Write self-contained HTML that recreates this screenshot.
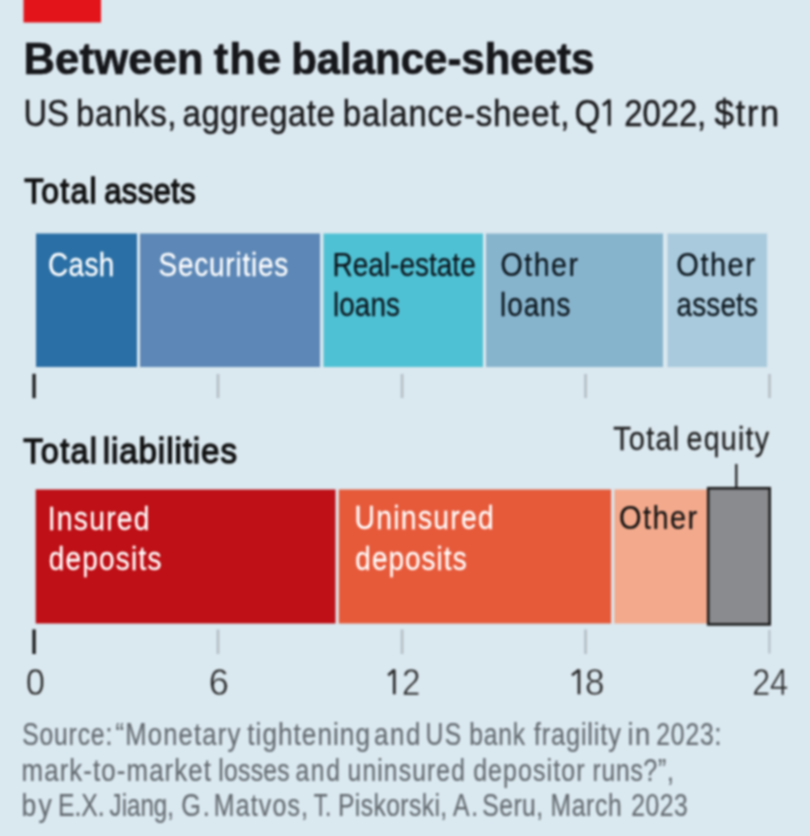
<!DOCTYPE html>
<html><head><meta charset="utf-8"><style>
html,body{margin:0;padding:0;background:#dae8ef;overflow:hidden;width:810px;height:836px;}
svg{display:block;} #w{filter:blur(1px);position:absolute;left:-10px;top:-10px;width:830px;height:856px;}
text{font-family:"Liberation Sans",sans-serif;}
</style></head><body><div id="w">
<svg width="830" height="856" viewBox="-10 -10 830 856">
<rect x="-10" y="-10" width="830" height="856" fill="#dae8ef"/>
<rect x="23.5" y="-10" width="77.5" height="32.5" fill="#e3141a"/>
<!-- assets bar -->
<rect x="36" y="233.5" width="101" height="133.5" fill="#2a6fa5"/>
<rect x="140" y="233.5" width="180" height="133.5" fill="#5c87b6"/>
<rect x="323.5" y="233.5" width="159.5" height="133.5" fill="#4fc1d4"/>
<rect x="486" y="233.5" width="177" height="133.5" fill="#87b4cd"/>
<rect x="667.5" y="233.5" width="99.5" height="133.5" fill="#a9cadd"/>
<!-- asset ticks -->
<rect x="32.4" y="373.8" width="3.3" height="24.4" fill="#1c1c1c"/>
<rect x="216.6" y="374" width="2.8" height="24" fill="#b6c0c7"/>
<rect x="400.7" y="374" width="2.8" height="24" fill="#b6c0c7"/>
<rect x="584.2" y="374" width="2.8" height="24" fill="#b6c0c7"/>
<rect x="768.1" y="374" width="2.8" height="24" fill="#b6c0c7"/>
<!-- liabilities bar -->
<rect x="35.7" y="489.5" width="299.8" height="134" fill="#be1016"/>
<rect x="338.8" y="489.5" width="272.3" height="134" fill="#e65a3a"/>
<rect x="614.3" y="489.5" width="93" height="134" fill="#f3a98c"/>
<rect x="708.2" y="488.2" width="61.5" height="136.2" fill="#8a8b8e" stroke="#1e1e1e" stroke-width="2.6"/>
<rect x="735.2" y="464" width="2.2" height="23" fill="#1e1e1e"/>
<!-- liab ticks -->
<rect x="32.4" y="629.4" width="3.3" height="24.6" fill="#1c1c1c"/>
<rect x="216.6" y="629.5" width="2.8" height="24.5" fill="#b6c0c7"/>
<rect x="400.7" y="629.5" width="2.8" height="24.5" fill="#b6c0c7"/>
<rect x="584.2" y="629.5" width="2.8" height="24.5" fill="#b6c0c7"/>
<rect x="768.3" y="630" width="2.2" height="23.5" fill="#b6c0c7"/>
<!-- digit 1s -->
<path d="M394.3 669.5 L394.3 694.3 M394.3 669.8 L388.2 675.2" stroke="#2b2b2b" stroke-width="2.7" fill="none" stroke-linecap="butt"/>
<path d="M579.0 669.5 L579.0 694.3 M579.0 669.8 L572.0 675.2" stroke="#2b2b2b" stroke-width="2.7" fill="none" stroke-linecap="butt"/>
<path d="M609.3 99.6 L609.3 125.8 M609.3 100.2 L603.0 105.4" stroke="#1c1c1e" stroke-width="3.0" fill="none"/>

<text transform="scale(1.0000,1)" x="23.49" y="73.70" font-weight="bold" font-size="43.5" fill="#16171a" textLength="180.21" lengthAdjust="spacing" stroke="#16171a" stroke-width="0.7">Between</text>
<text transform="scale(1.0000,1)" x="213.67" y="73.70" font-weight="bold" font-size="43.5" fill="#16171a" textLength="67.22" lengthAdjust="spacing" stroke="#16171a" stroke-width="0.7">the</text>
<text x="291.13" y="73.70" font-weight="bold" font-size="43.5" fill="#16171a" textLength="303.19" lengthAdjust="spacingAndGlyphs" stroke="#16171a" stroke-width="0.7">balance-sheets</text>
<text x="23.48" y="125.80" font-weight="normal" font-size="37.5" fill="#1c1c1e" textLength="45.42" lengthAdjust="spacingAndGlyphs" stroke="#1c1c1e" stroke-width="0.45">US</text>
<text transform="scale(0.8800,1)" x="86.33" y="125.80" font-weight="normal" font-size="37.5" fill="#1c1c1e" textLength="114.20" lengthAdjust="spacing" stroke="#1c1c1e" stroke-width="0.45">banks,</text>
<text transform="scale(0.8800,1)" x="207.50" y="125.80" font-weight="normal" font-size="37.5" fill="#1c1c1e" textLength="172.92" lengthAdjust="spacing" stroke="#1c1c1e" stroke-width="0.45">aggregate</text>
<text transform="scale(0.8800,1)" x="389.63" y="125.80" font-weight="normal" font-size="37.5" fill="#1c1c1e" textLength="257.49" lengthAdjust="spacing" stroke="#1c1c1e" stroke-width="0.45">balance-sheet,</text>
<text x="574.62" y="125.80" font-weight="normal" font-size="37.5" fill="#1c1c1e" textLength="25.98" lengthAdjust="spacingAndGlyphs" stroke="#1c1c1e" stroke-width="0.45">Q</text>
<text x="624.15" y="125.80" font-weight="normal" font-size="37.5" fill="#1c1c1e" textLength="82.10" lengthAdjust="spacingAndGlyphs" stroke="#1c1c1e" stroke-width="0.45">2022,</text>
<text transform="scale(0.9334,1)" x="765.57" y="125.80" font-weight="normal" font-size="37.5" fill="#1c1c1e" textLength="69.26" lengthAdjust="spacing" stroke="#1c1c1e" stroke-width="0.45">$trn</text>
<text transform="scale(0.8976,1)" x="26.94" y="203.50" font-weight="normal" font-size="35.5" fill="#121212" textLength="80.60" lengthAdjust="spacing" stroke="#121212" stroke-width="1.3">Total</text>
<text transform="scale(0.8800,1)" x="118.49" y="203.50" font-weight="normal" font-size="35.5" fill="#121212" textLength="103.70" lengthAdjust="spacing" stroke="#121212" stroke-width="1.3">assets</text>
<text transform="scale(0.8200,1)" x="58.52" y="276.20" font-weight="normal" font-size="34" fill="#ffffff" textLength="80.89" lengthAdjust="spacing" stroke="#ffffff" stroke-width="0.25">Cash</text>
<text transform="scale(0.8200,1)" x="193.33" y="276.40" font-weight="normal" font-size="34" fill="#ffffff" textLength="158.14" lengthAdjust="spacing" stroke="#ffffff" stroke-width="0.25">Securities</text>
<text x="332.50" y="275.80" font-weight="normal" font-size="34" fill="#0c161d" textLength="143.24" lengthAdjust="spacingAndGlyphs" stroke="#0c161d" stroke-width="0.25">Real-estate</text>
<text transform="scale(0.8200,1)" x="406.00" y="316.20" font-weight="normal" font-size="34" fill="#0c161d" textLength="81.81" lengthAdjust="spacing" stroke="#0c161d" stroke-width="0.25">loans</text>
<text transform="scale(0.8410,1)" x="595.27" y="276.00" font-weight="normal" font-size="34" fill="#0c161d" textLength="91.94" lengthAdjust="spacing" stroke="#0c161d" stroke-width="0.25">Other</text>
<text transform="scale(0.8200,1)" x="609.90" y="316.20" font-weight="normal" font-size="34" fill="#0c161d" textLength="85.84" lengthAdjust="spacing" stroke="#0c161d" stroke-width="0.25">loans</text>
<text transform="scale(0.8555,1)" x="790.54" y="276.00" font-weight="normal" font-size="34" fill="#0c161d" textLength="91.83" lengthAdjust="spacing" stroke="#0c161d" stroke-width="0.25">Other</text>
<text transform="scale(0.8200,1)" x="825.02" y="316.20" font-weight="normal" font-size="34" fill="#0c161d" textLength="99.26" lengthAdjust="spacing" stroke="#0c161d" stroke-width="0.25">assets</text>
<text transform="scale(0.9143,1)" x="25.56" y="463.50" font-weight="normal" font-size="35.5" fill="#121212" textLength="80.50" lengthAdjust="spacing" stroke="#121212" stroke-width="1.3">Total</text>
<text transform="scale(0.9331,1)" x="110.03" y="463.50" font-weight="normal" font-size="35.5" fill="#121212" textLength="143.96" lengthAdjust="spacing" stroke="#121212" stroke-width="1.3">liabilities</text>
<text transform="scale(0.8531,1)" x="718.73" y="450.20" font-weight="normal" font-size="34" fill="#222222" textLength="77.47" lengthAdjust="spacing" stroke="#222222" stroke-width="0.25">Total</text>
<text transform="scale(0.8401,1)" x="817.18" y="450.20" font-weight="normal" font-size="34" fill="#222222" textLength="98.17" lengthAdjust="spacing" stroke="#222222" stroke-width="0.25">equity</text>
<text transform="scale(0.8312,1)" x="57.38" y="529.60" font-weight="normal" font-size="34" fill="#ffffff" textLength="122.51" lengthAdjust="spacing" stroke="#ffffff" stroke-width="0.25">Insured</text>
<text transform="scale(0.8220,1)" x="59.27" y="570.40" font-weight="normal" font-size="34" fill="#ffffff" textLength="137.20" lengthAdjust="spacing" stroke="#ffffff" stroke-width="0.25">deposits</text>
<text transform="scale(0.8310,1)" x="426.63" y="529.40" font-weight="normal" font-size="34" fill="#ffffff" textLength="167.63" lengthAdjust="spacing" stroke="#ffffff" stroke-width="0.25">Uninsured</text>
<text transform="scale(0.8200,1)" x="433.33" y="569.80" font-weight="normal" font-size="34" fill="#ffffff" textLength="135.71" lengthAdjust="spacing" stroke="#ffffff" stroke-width="0.25">deposits</text>
<text transform="scale(0.8507,1)" x="727.67" y="529.40" font-weight="normal" font-size="34" fill="#111111" textLength="91.87" lengthAdjust="spacing" stroke="#111111" stroke-width="0.25">Other</text>
<text x="25.85" y="694.80" font-weight="normal" font-size="37" fill="#2b2b2b" textLength="19.20" lengthAdjust="spacingAndGlyphs" stroke="#dae8ef" stroke-width="0.5">0</text>
<text x="208.86" y="694.80" font-weight="normal" font-size="37" fill="#2b2b2b" textLength="20.13" lengthAdjust="spacingAndGlyphs" stroke="#dae8ef" stroke-width="0.5">6</text>
<text x="402.03" y="694.80" font-weight="normal" font-size="37" fill="#2b2b2b" textLength="18.43" lengthAdjust="spacingAndGlyphs" stroke="#dae8ef" stroke-width="0.5">2</text>
<text x="584.97" y="694.80" font-weight="normal" font-size="37" fill="#2b2b2b" textLength="19.56" lengthAdjust="spacingAndGlyphs" stroke="#dae8ef" stroke-width="0.5">8</text>
<text x="752.18" y="694.80" font-weight="normal" font-size="37" fill="#2b2b2b" textLength="17.95" lengthAdjust="spacingAndGlyphs" stroke="#dae8ef" stroke-width="0.5">2</text>
<text x="769.95" y="694.80" font-weight="normal" font-size="37" fill="#2b2b2b" textLength="18.10" lengthAdjust="spacingAndGlyphs" stroke="#dae8ef" stroke-width="0.5">4</text>
<text transform="scale(0.8000,1)" x="27.73" y="745.30" font-weight="normal" font-size="30.8" fill="#656c72" textLength="112.59" lengthAdjust="spacing" stroke="#656c72" stroke-width="0.2">Source:</text>
<text transform="scale(0.8314,1)" x="138.88" y="745.30" font-weight="normal" font-size="30.8" fill="#656c72" textLength="150.21" lengthAdjust="spacing" stroke="#656c72" stroke-width="0.2">“Monetary</text>
<text transform="scale(0.8497,1)" x="291.04" y="745.30" font-weight="normal" font-size="30.8" fill="#656c72" textLength="144.38" lengthAdjust="spacing" stroke="#656c72" stroke-width="0.2">tightening</text>
<text transform="scale(0.8407,1)" x="444.77" y="745.30" font-weight="normal" font-size="30.8" fill="#656c72" textLength="55.40" lengthAdjust="spacing" stroke="#656c72" stroke-width="0.2">and</text>
<text transform="scale(0.8000,1)" x="531.87" y="745.30" font-weight="normal" font-size="30.8" fill="#656c72" textLength="44.54" lengthAdjust="spacing" stroke="#656c72" stroke-width="0.2">US</text>
<text transform="scale(0.8000,1)" x="586.51" y="745.30" font-weight="normal" font-size="30.8" fill="#656c72" textLength="69.69" lengthAdjust="spacing" stroke="#656c72" stroke-width="0.2">bank</text>
<text transform="scale(0.8222,1)" x="649.30" y="745.30" font-weight="normal" font-size="30.8" fill="#656c72" textLength="105.83" lengthAdjust="spacing" stroke="#656c72" stroke-width="0.2">fragility</text>
<text transform="scale(0.8887,1)" x="705.98" y="745.30" font-weight="normal" font-size="30.8" fill="#656c72" textLength="25.55" lengthAdjust="spacing" stroke="#656c72" stroke-width="0.2">in</text>
<text transform="scale(0.8000,1)" x="820.33" y="745.30" font-weight="normal" font-size="30.8" fill="#656c72" textLength="81.49" lengthAdjust="spacing" stroke="#656c72" stroke-width="0.2">2023:</text>
<text transform="scale(0.8380,1)" x="25.76" y="780.60" font-weight="normal" font-size="30.8" fill="#656c72" textLength="226.01" lengthAdjust="spacing" stroke="#656c72" stroke-width="0.2">mark-to-market</text>
<text transform="scale(0.8000,1)" x="272.92" y="780.60" font-weight="normal" font-size="30.8" fill="#656c72" textLength="89.19" lengthAdjust="spacing" stroke="#656c72" stroke-width="0.2">losses</text>
<text transform="scale(0.8000,1)" x="369.32" y="780.60" font-weight="normal" font-size="30.8" fill="#656c72" textLength="55.54" lengthAdjust="spacing" stroke="#656c72" stroke-width="0.2">and</text>
<text transform="scale(0.8000,1)" x="434.50" y="780.60" font-weight="normal" font-size="30.8" fill="#656c72" textLength="146.61" lengthAdjust="spacing" stroke="#656c72" stroke-width="0.2">uninsured</text>
<text transform="scale(0.8107,1)" x="583.62" y="780.60" font-weight="normal" font-size="30.8" fill="#656c72" textLength="137.49" lengthAdjust="spacing" stroke="#656c72" stroke-width="0.2">depositor</text>
<text transform="scale(0.8000,1)" x="740.70" y="780.60" font-weight="normal" font-size="30.8" fill="#656c72" textLength="101.69" lengthAdjust="spacing" stroke="#656c72" stroke-width="0.2">runs?”,</text>
<text transform="scale(0.8616,1)" x="25.06" y="816.20" font-weight="normal" font-size="30.8" fill="#656c72" textLength="35.01" lengthAdjust="spacing" stroke="#656c72" stroke-width="0.2">by</text>
<text x="57.97" y="816.20" font-weight="normal" font-size="30.8" fill="#656c72" textLength="46.79" lengthAdjust="spacingAndGlyphs" stroke="#656c72" stroke-width="0.2">E.X.</text>
<text x="109.62" y="816.20" font-weight="normal" font-size="30.8" fill="#656c72" textLength="64.24" lengthAdjust="spacingAndGlyphs" stroke="#656c72" stroke-width="0.2">Jiang,</text>
<text transform="scale(0.8180,1)" x="221.57" y="816.20" font-weight="normal" font-size="30.8" fill="#656c72" textLength="34.93" lengthAdjust="spacing" stroke="#656c72" stroke-width="0.2">G.</text>
<text transform="scale(0.8078,1)" x="264.63" y="816.20" font-weight="normal" font-size="30.8" fill="#656c72" textLength="116.71" lengthAdjust="spacing" stroke="#656c72" stroke-width="0.2">Matvos,</text>
<text x="313.69" y="816.20" font-weight="normal" font-size="30.8" fill="#656c72" textLength="17.57" lengthAdjust="spacingAndGlyphs" stroke="#656c72" stroke-width="0.2">T.</text>
<text transform="scale(0.8000,1)" x="422.47" y="816.20" font-weight="normal" font-size="30.8" fill="#656c72" textLength="136.54" lengthAdjust="spacing" stroke="#656c72" stroke-width="0.2">Piskorski,</text>
<text transform="scale(0.8000,1)" x="566.19" y="816.20" font-weight="normal" font-size="30.8" fill="#656c72" textLength="31.37" lengthAdjust="spacing" stroke="#656c72" stroke-width="0.2">A.</text>
<text transform="scale(0.8000,1)" x="602.73" y="816.20" font-weight="normal" font-size="30.8" fill="#656c72" textLength="76.29" lengthAdjust="spacing" stroke="#656c72" stroke-width="0.2">Seru,</text>
<text transform="scale(0.8000,1)" x="688.10" y="816.20" font-weight="normal" font-size="30.8" fill="#656c72" textLength="88.90" lengthAdjust="spacing" stroke="#656c72" stroke-width="0.2">March</text>
<text transform="scale(0.8000,1)" x="789.08" y="816.20" font-weight="normal" font-size="30.8" fill="#656c72" textLength="70.65" lengthAdjust="spacing" stroke="#656c72" stroke-width="0.2">2023</text>
</svg></div>
</body></html>
